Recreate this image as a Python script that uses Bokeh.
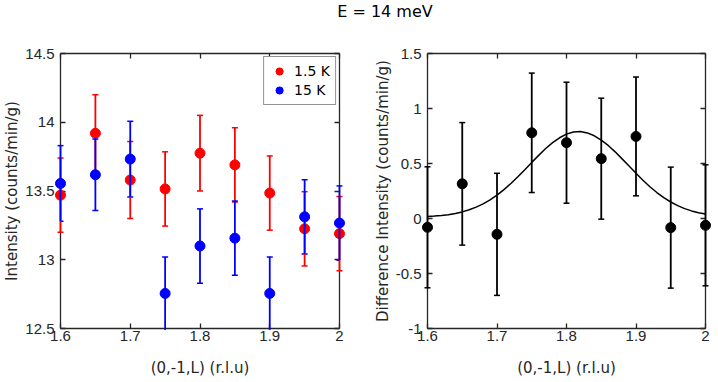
from bokeh.plotting import figure
from bokeh.models import (ColumnDataSource, FixedTicker, CustomJSTickFormatter, LinearAxis,
                          Range1d, Legend, LegendItem, Div)
from bokeh.layouts import column, row
from bokeh.embed import file_html
from bokeh.resources import INLINE

# ---------------- data ----------------
L_vals = [1.6, 1.65, 1.7, 1.75, 1.8, 1.85, 1.9, 1.95, 2.0]

int_1p5K = [13.47, 13.92, 13.58, 13.515, 13.775, 13.69, 13.485, 13.225, 13.19]
err_1p5K = [0.27, 0.28, 0.28, 0.27, 0.275, 0.27, 0.27, 0.27, 0.27]

int_15K = [13.555, 13.618, 13.732, 12.755, 13.10, 13.157, 12.755, 13.312, 13.267]
err_15K = [0.275, 0.26, 0.275, 0.265, 0.27, 0.27, 0.265, 0.27, 0.27]

diff_int = [-0.08, 0.315, -0.144, 0.779, 0.689, 0.544, 0.746, -0.083, -0.062]
diff_err = [0.55, 0.557, 0.555, 0.543, 0.55, 0.55, 0.54, 0.55, 0.55]

fit_L = [1.60, 1.61, 1.62, 1.63, 1.64, 1.65, 1.66, 1.67, 1.68, 1.69, 1.70,
         1.71, 1.72, 1.73, 1.74, 1.75, 1.76, 1.77, 1.78, 1.79, 1.80,
         1.81, 1.82, 1.83, 1.84, 1.85, 1.86, 1.87, 1.88, 1.89, 1.90,
         1.91, 1.92, 1.93, 1.94, 1.95, 1.96, 1.97, 1.98, 1.99, 2.00]
fit_vals = [0.018, 0.022, 0.027, 0.035, 0.046, 0.060, 0.079, 0.103, 0.133, 0.169, 0.212,
            0.262, 0.318, 0.379, 0.443, 0.510, 0.574, 0.636, 0.690, 0.734, 0.767,
            0.786, 0.790, 0.778, 0.752, 0.713, 0.664, 0.606, 0.542, 0.477, 0.411,
            0.348, 0.289, 0.236, 0.190, 0.150, 0.117, 0.090, 0.069, 0.052, 0.040]

x_ticks = [1.6, 1.7, 1.8, 1.9, 2.0]
x_tick_labels = ["1.6", "1.7", "1.8", "1.9", "2"]
y1_ticks = [12.5, 13.0, 13.5, 14.0, 14.5]
y1_tick_labels = ["12.5", "13", "13.5", "14", "14.5"]
y2_ticks = [-1.0, -0.5, 0.0, 0.5, 1.0, 1.5]
y2_tick_labels = ["-1", "-0.5", "0", "0.5", "1", "1.5"]

title_text = "E = 14 meV"
x_label = "(0,-1,L) (r.l.u)"
y1_label = "Intensity (counts/min/g)"
y2_label = "Difference Intensity (counts/min/g)"
series_labels = ["1.5 K", "15 K"]

# ---------------- style ----------------
AX = "#262626"
TICK_FONT = "Liberation Sans"
LABEL_FONT = "DejaVu Sans"


def fmt(ticks, labels):
    return CustomJSTickFormatter(args=dict(t=ticks, l=labels),
                                 code="const i = t.indexOf(tick); return i >= 0 ? l[i] : tick.toString();")


BLANK = CustomJSTickFormatter(code="return '';")


def style_axis(ax, ticks, labels, show_labels=True):
    ax.ticker = FixedTicker(ticks=ticks)
    ax.major_tick_in = 5
    ax.major_tick_out = 0
    ax.minor_tick_line_color = None
    ax.axis_line_color = AX
    ax.axis_line_width = 1.3
    ax.major_tick_line_color = AX
    ax.major_tick_line_width = 1.3
    ax.major_label_text_font = TICK_FONT
    ax.axis_label_text_font = LABEL_FONT
    ax.axis_label_text_font_style = "normal"
    ax.axis_label_text_font_size = "15px"
    ax.axis_label_text_color = AX
    ax.major_label_text_font_size = "15px"
    if show_labels:
        ax.formatter = fmt(ticks, labels)
        ax.major_label_text_color = AX
    else:
        ax.formatter = BLANK
        ax.major_label_text_color = None
        ax.major_label_standoff = 0
        ax.axis_label_standoff = 0


def make_fig(width, border_left, border_right, yr, yticks, ylabels, ylab):
    p = figure(width=width, height=358, output_backend="svg", toolbar_location=None,
               x_range=Range1d(1.6, 2.0), y_range=Range1d(*yr),
               min_border_left=border_left, min_border_right=border_right,
               min_border_top=30, min_border_bottom=53)
    p.xgrid.visible = False
    p.ygrid.visible = False
    p.outline_line_color = None
    p.background_fill_color = "white"
    p.border_fill_color = "white"
    style_axis(p.xaxis[0], x_ticks, x_tick_labels)
    p.xaxis[0].major_label_standoff = 2
    p.xaxis[0].axis_label = x_label
    p.xaxis[0].axis_label_standoff = 15
    style_axis(p.yaxis[0], yticks, ylabels)
    p.yaxis[0].major_label_standoff = 6
    p.yaxis[0].axis_label = ylab
    p.yaxis[0].axis_label_standoff = 1
    right = LinearAxis()
    style_axis(right, yticks, ylabels, show_labels=False)
    p.add_layout(right, "right")
    top = LinearAxis()
    style_axis(top, x_ticks, x_tick_labels, show_labels=False)
    p.add_layout(top, "above")
    return p


def errorbars(p, xs, ys, es, color, clip_lower=False):
    # markers/caps on the "overlay" level so that points on the frame edge are not cut
    src = ColumnDataSource(dict(x=xs, y=ys,
                                lo=[y - e for y, e in zip(ys, es)],
                                hi=[y + e for y, e in zip(ys, es)]))
    p.segment(x0="x", y0="lo", x1="x", y1="hi", source=src, line_color=color,
              line_width=1.8, level="overlay")
    p.scatter(x="x", y="lo", source=src, marker="dash", size=6, line_color=color,
              line_width=1.5, level=("glyph" if clip_lower else "overlay"))
    p.scatter(x="x", y="hi", source=src, marker="dash", size=6, line_color=color,
              line_width=1.5, level="overlay")
    return p.scatter(x="x", y="y", source=src, marker="circle", size=10,
                     fill_color=color, line_color=color, level="overlay")


# ---------------- left panel ----------------
p1 = make_fig(370, 60, 31, (12.5, 14.5), y1_ticks, y1_tick_labels, y1_label)
r_red = errorbars(p1, L_vals, int_1p5K, err_1p5K, "#ff0000")
r_blue = errorbars(p1, L_vals, int_15K, err_15K, "#0000ff", clip_lower=True)
legend = Legend(items=[LegendItem(label=series_labels[0], renderers=[r_red]),
                       LegendItem(label=series_labels[1], renderers=[r_blue])],
                location="top_right")
legend.label_text_font = LABEL_FONT
legend.label_text_font_size = "14px"
legend.label_text_color = "black"
legend.border_line_color = AX
legend.border_line_width = 1.3
legend.padding = 5
legend.spacing = 1
legend.margin = 3
legend.glyph_height = 18
legend.glyph_width = 20
legend.label_height = 18
legend.label_standoff = 5
legend.background_fill_alpha = 1.0
p1.add_layout(legend)

# ---------------- right panel ----------------
p2 = make_fig(346, 56, 11, (-1.0, 1.5), y2_ticks, y2_tick_labels, y2_label)
p2.line(fit_L, fit_vals, line_color="black", line_width=1.5)
errorbars(p2, L_vals, diff_int, diff_err, "black")

title = Div(text='<div style="width:666px;margin-left:52px;text-align:center;font-family:\'DejaVu Sans\';'
                 'font-size:16px;line-height:23px;color:black;white-space:nowrap;">' + title_text + '</div>',
            width=718, height=23, margin=(0, 0, 0, 0))

layout = column(title, row(p1, p2))
open("out.html", "w").write(file_html(layout, INLINE))
